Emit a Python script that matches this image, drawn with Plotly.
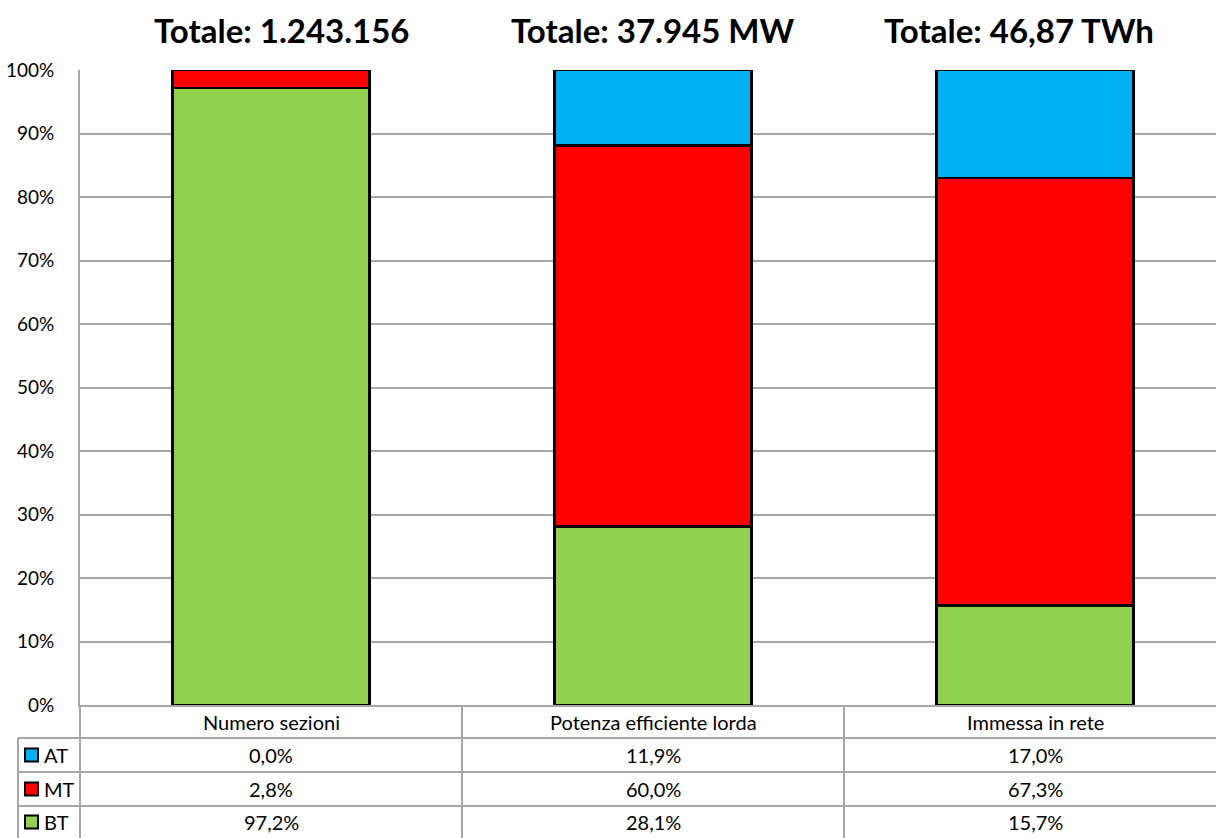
import plotly.graph_objects as go

categories = ["Numero sezioni", "Potenza efficiente lorda", "Immessa in rete"]
totals = ["Totale: 1.243.156", "Totale: 37.945 MW", "Totale: 46,87 TWh"]
bt = [97.2, 28.1, 15.7]
mt = [2.8, 60.0, 67.3]
at = [0.0, 11.9, 17.0]

series = [("BT", bt, "#92D050"), ("MT", mt, "#FF0000"), ("AT", at, "#00B0F0")]
table_rows = [("AT", at, "#00B0F0"), ("MT", mt, "#FF0000"), ("BT", bt, "#92D050")]

W, H = 1216, 838
L, T, B = 80, 70, 133
PH = H - T - B
FONT = "Lato"
GRID = "#A6A6A6"


# pixel -> paper helpers
def px(x):
    return (x - L) / (W - L)


def py(y):
    return (H - B - y) / PH


def pct(v):
    return f"{v:.1f}%".replace(".", ",")


x = list(range(len(categories)))

fig = go.Figure()
for name, vals, col in series:
    fig.add_trace(go.Bar(
        x=x, y=vals, name=name, width=0.515,
        marker=dict(color=col, line=dict(color="black", width=2.5)),
        showlegend=False, hoverinfo="skip"
    ))

shapes = []
annotations = []

# titles
shifts = [10, 0, -16]
for i, t in enumerate(totals):
    annotations.append(dict(
        x=i, y=py(30), xref="x", yref="paper", text=f"<b>{t}</b>",
        showarrow=False, xshift=shifts[i], yanchor="middle",
        font=dict(family=FONT, size=33, color="black")
    ))

# table grid
row_y = [705, 738, 772, 806, 838]
line = dict(color=GRID, width=2)
for yy in row_y[1:4]:
    shapes.append(dict(type="line", xref="paper", yref="paper",
                       x0=px(18), x1=1, y0=py(yy), y1=py(yy), line=line))
shapes.append(dict(type="line", xref="paper", yref="paper",
                   x0=0, x1=0, y0=py(705), y1=py(845), line=line))
shapes.append(dict(type="line", xref="paper", yref="paper",
                   x0=px(18), x1=px(18), y0=py(738), y1=py(845), line=line))
for xv in [0.5, 1.5]:
    shapes.append(dict(type="line", xref="x", yref="paper",
                       x0=xv, x1=xv, y0=py(705), y1=py(845), line=line))

# header row
for i, c in enumerate(categories):
    annotations.append(dict(
        x=i, y=py(722), xref="x", yref="paper", text=c, showarrow=False,
        yanchor="middle", font=dict(family=FONT, size=20, color="black")
    ))

# data rows with legend keys
for r, (name, vals, col) in enumerate(table_rows):
    yc = (row_y[r + 1] + row_y[r + 2]) / 2
    shapes.append(dict(type="rect", xref="paper", yref="paper",
                       x0=px(25), x1=px(38), y0=py(yc - 6.5), y1=py(yc + 6.5),
                       fillcolor=col, line=dict(color="black", width=2)))
    annotations.append(dict(
        x=px(42), y=py(yc), xref="paper", yref="paper", text=name,
        xanchor="left", yanchor="middle", showarrow=False,
        font=dict(family=FONT, size=20, color="black")
    ))
    for i, v in enumerate(vals):
        annotations.append(dict(
            x=i, y=py(yc), xref="x", yref="paper", text=pct(v),
            showarrow=False, yanchor="middle",
            font=dict(family=FONT, size=20, color="black")
        ))

fig.update_layout(
    barmode="stack",
    width=W, height=H,
    margin=dict(l=L, r=0, t=T, b=B, pad=0),
    paper_bgcolor="white", plot_bgcolor="white",
    shapes=shapes, annotations=annotations,
    font=dict(family=FONT, color="black"),
    xaxis=dict(range=[-0.5, 2.5 - 10 / 382], showticklabels=False,
               showgrid=False, zeroline=False, showline=True,
               linecolor=GRID, linewidth=2, fixedrange=True),
    yaxis=dict(range=[0, 100], dtick=10, ticksuffix="%", showgrid=True,
               gridcolor=GRID, gridwidth=1.5, zeroline=False,
               showline=True, linecolor=GRID, linewidth=2,
               ticklabelstandoff=20, tickfont=dict(family=FONT, size=19),
               fixedrange=True)
)

fig.write_html("out.html", config={"displayModeBar": False},
               post_script="document.body.style.margin='0';")
